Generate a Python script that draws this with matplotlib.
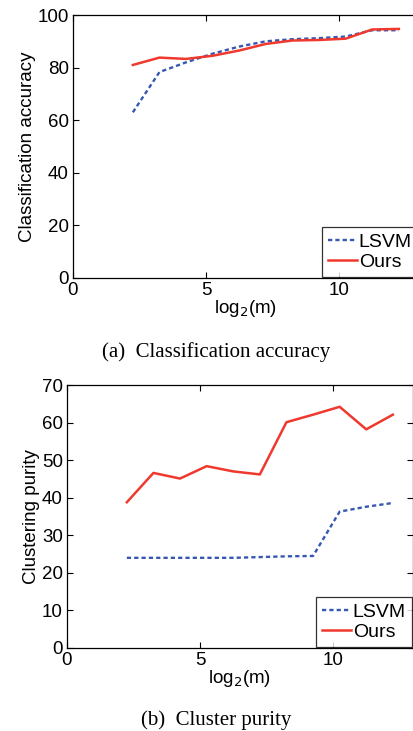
import numpy as np
import matplotlib
matplotlib.use('Agg')
import matplotlib.pyplot as plt

log2m = [2.25, 3.25, 4.25, 5.25, 6.25, 7.25, 8.25, 9.25, 10.25, 11.25, 12.25]

acc_lsvm = [63.0, 78.3, 82.0, 85.3, 88.0, 90.0, 90.8, 91.2, 91.8, 94.2, 94.2]
acc_ours = [81.0, 83.8, 83.3, 84.5, 86.5, 89.0, 90.3, 90.5, 91.0, 94.5, 94.7]

pur_lsvm = [24.0, 24.0, 24.0, 24.0, 24.0, 24.2, 24.4, 24.5, 36.3, 37.6, 38.6]
pur_ours = [38.8, 46.6, 45.1, 48.4, 47.0, 46.2, 60.1, 62.1, 64.2, 58.2, 62.1]

W, H = 414, 731
fig = plt.figure(figsize=(W / 100, H / 100), dpi=100)

plt.rcParams['font.family'] = ['Liberation Sans', 'DejaVu Sans']

blue = '#3658b0'
red = '#f0392e'


def make_axes(left, top, bottom, ylab, ys, yticks, lsvm, ours):
    # правая граница осей уходит за край картинки, как в оригинале
    ax = fig.add_axes([left / W, 1 - bottom / H, 13 * 26.6 / W, (bottom - top) / H])
    ax.plot(log2m, lsvm, color=blue, lw=1.7, linestyle=(0, (1.8, 1.3)), label='LSVM')
    ax.plot(log2m, ours, color=red, lw=1.8, label='Ours')
    ax.set_xlim(0, 13)
    ax.set_ylim(0, ys)
    ax.set_xticks([0, 5, 10])
    ax.set_yticks(yticks)
    ax.tick_params(direction='in', top=True, right=True, length=4, width=0.8,
                   labelsize=13.5, pad=3)
    for s in ax.spines.values():
        s.set_linewidth(0.9)
    ax.set_xlabel('log$_2$(m)', fontsize=13.5, labelpad=-1)
    ax.set_ylabel(ylab, fontsize=13.5, labelpad=1)
    leg = ax.legend(loc='lower right', bbox_to_anchor=(1.0, 0.0), borderaxespad=0.05,
                    fontsize=14, frameon=True, fancybox=False, edgecolor='black',
                    handlelength=1.5, handletextpad=0.1, labelspacing=0.15,
                    borderpad=0.3)
    leg.get_frame().set_linewidth(0.9)
    return ax


make_axes(73, 15, 278, 'Classification accuracy', 100, [0, 20, 40, 60, 80, 100],
          acc_lsvm, acc_ours)
make_axes(67, 385, 648, 'Clustering purity', 70, [0, 10, 20, 30, 40, 50, 60, 70],
          pur_lsvm, pur_ours)

fig.text(216 / W, 1 - 352 / H, '(a)  Classification accuracy', ha='center', va='center',
         fontsize=15, family='Liberation Serif')
fig.text(216 / W, 1 - 720 / H, '(b)  Cluster purity', ha='center', va='center',
         fontsize=15, family='Liberation Serif')

fig.savefig('out.png', dpi=100)
